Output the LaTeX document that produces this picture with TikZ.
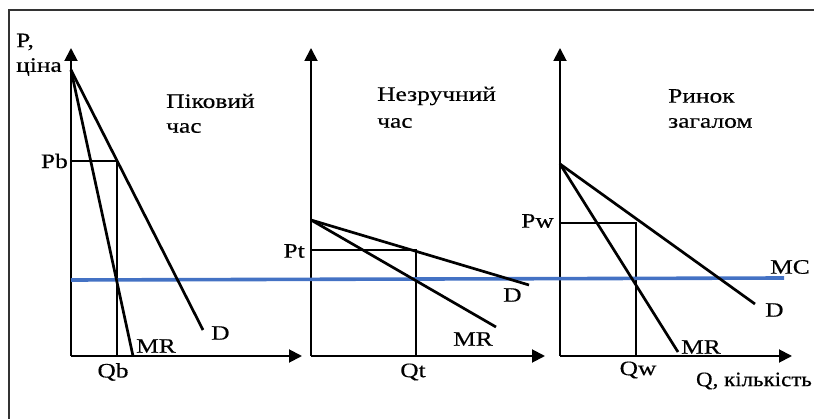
\documentclass[tikz,border=0pt]{standalone}
\usepackage{fontspec}
\setmainfont{Liberation Serif}[FakeStretch=1.24,FakeBold=0.4]
\newfontfamily\qfont{Liberation Serif}[FakeStretch=1.12,FakeBold=0.4]
\usetikzlibrary{arrows.meta}
\begin{document}
\begin{tikzpicture}[x=1pt,y=-1pt,
  axis/.style={line width=1.9pt,-{Triangle[length=13pt,width=13pt]}},
  curve/.style={line width=2.7pt},
  guide/.style={line width=1.5pt},
  mcline/.style={line width=3.6pt,color=mcblue},
  lbl/.style={font=\fontsize{20.5}{22}\selectfont,inner sep=0pt},
]
\definecolor{mcblue}{HTML}{4472C4}
\useasboundingbox (0,0) rectangle (814,419);
% frame
\coordinate (fbl) at (9,440);
\coordinate (ftl) at (9,10);
\coordinate (ftr) at (830,10);
\draw[line width=2pt,color=black!80] (fbl) -- (ftl) -- (ftr);

% ---------- panel 1 ----------
\coordinate (O1) at (71,356);
\coordinate (Y1) at (71,48);
\coordinate (X1) at (302,356);
\coordinate (A1) at (71,70);
\coordinate (D1) at (203,330);
\coordinate (M1) at (133,356);
\coordinate (Pb) at (71,161);
\coordinate (Eb) at (117,161);
\coordinate (Qb) at (117,356);
% ---------- panel 2 ----------
\coordinate (O2) at (311,356);
\coordinate (Y2) at (311,48);
\coordinate (X2) at (545,356);
\coordinate (A2) at (311,220);
\coordinate (D2) at (529,285);
\coordinate (M2) at (496,327);
\coordinate (Pt) at (311,250);
\coordinate (Et) at (416,250);
\coordinate (Qt) at (416,356);
% ---------- panel 3 ----------
\coordinate (O3) at (560,356);
\coordinate (Y3) at (560,48);
\coordinate (X3) at (792,356);
\coordinate (A3) at (560,164);
\coordinate (D3) at (755,304);
\coordinate (M3) at (678,352);
\coordinate (Pw) at (560,223);
\coordinate (Ew) at (636,223);
\coordinate (Qw) at (636,356);
% MC
\coordinate (MCa) at (71,280);
\coordinate (MCb) at (784,278);

% guides
\draw[guide] (Pb) -- (Eb) -- (Qb);
\draw[guide] (Pt) -- (Et) -- (Qt);
\draw[guide] (Pw) -- (Ew) -- (Qw);

% axes
\draw[axis] (O1) -- (Y1);
\draw[axis] (O1) -- (X1);
\draw[axis] (O2) -- (Y2);
\draw[axis] (O2) -- (X2);
\draw[axis] (O3) -- (Y3);
\draw[axis] (O3) -- (X3);

% MC line
\draw[mcline] (MCa) -- (MCb);

% curves
\draw[curve] (A1) -- (D1);
\draw[curve] (A1) -- (M1);
\draw[curve] (A2) -- (D2);
\draw[curve] (A2) -- (M2);
\draw[curve] (A3) -- (D3);
\draw[curve] (A3) -- (M3);

% labels panel 1
\node[lbl,anchor=west] (lP) at (16,42) {P,};
\node[lbl,anchor=west] (lcina) at (16,67) {ціна};
\node[lbl,anchor=east] (lPb) at (68,161) {Pb};
\node[lbl,anchor=west] (t1a) at (166,101) {Піковий};
\node[lbl,anchor=west] (t1b) at (166,128) {час};
\node[lbl,anchor=west] (lMR1) at (136,346) {MR};
\node[lbl,anchor=west] (lD1) at (211,333) {D};
\node[lbl] (lQb) at (113,372) {Qb};
% labels panel 2
\node[lbl,anchor=east] (lPt) at (305,251) {Pt};
\node[lbl,anchor=west] (t2a) at (377,96) {Незручний};
\node[lbl,anchor=west] (t2b) at (377,123) {час};
\node[lbl,anchor=west] (lD2) at (503,295) {D};
\node[lbl,anchor=west] (lMR2) at (453,339) {MR};
\node[lbl] (lQt) at (413,372) {Qt};
% labels panel 3
\node[lbl,anchor=east] (lPw) at (554,221) {Pw};
\node[lbl,anchor=west] (t3a) at (668,96) {Ринок};
\node[lbl,anchor=west] (t3b) at (668,123) {загалом};
\node[lbl,anchor=west] (lMC) at (770,267) {MC};
\node[lbl,anchor=west] (lD3) at (765,310) {D};
\node[lbl,anchor=west] (lMR3) at (681,347) {MR};
\node[lbl] (lQw) at (638,370) {Qw};
\node[lbl,font=\qfont\fontsize{20.5}{22}\selectfont,anchor=east] (lQ) at (812,381) {Q, кількість};
\end{tikzpicture}
\end{document}
